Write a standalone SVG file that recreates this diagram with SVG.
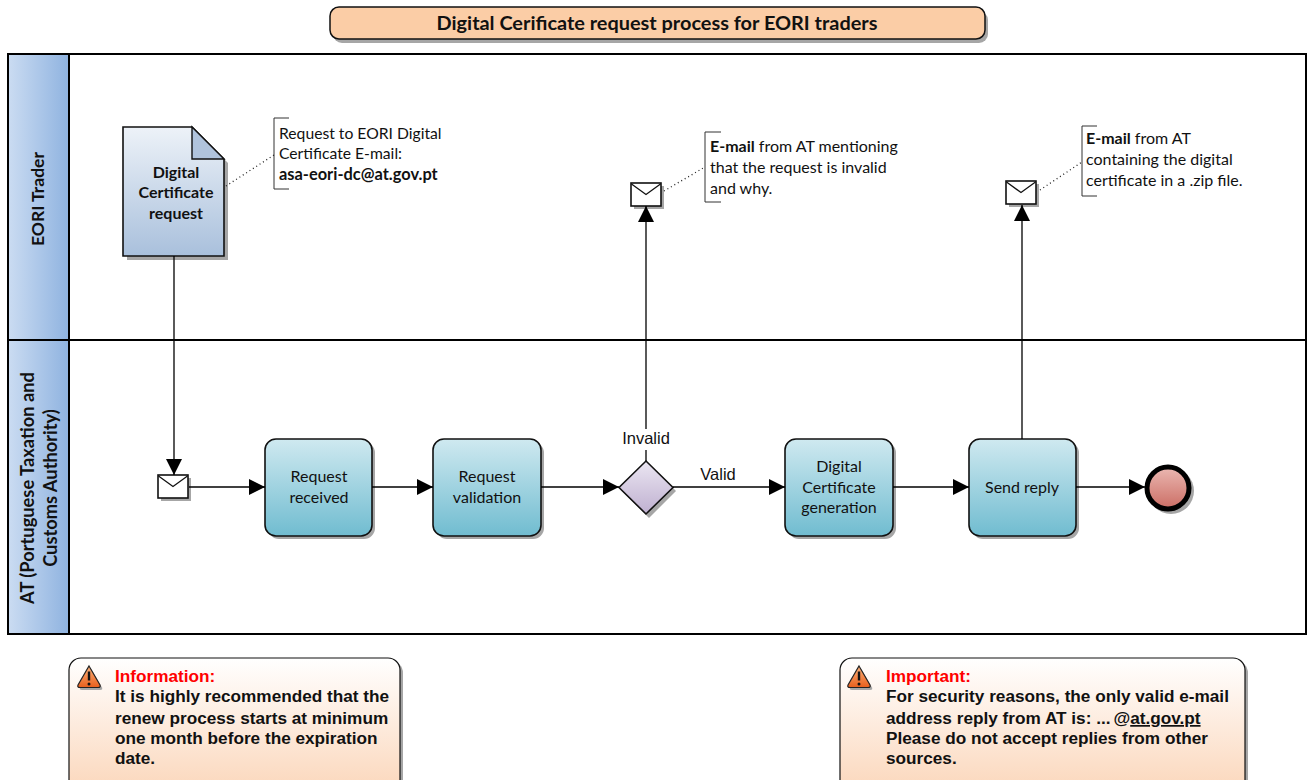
<svg xmlns="http://www.w3.org/2000/svg" xmlns:xlink="http://www.w3.org/1999/xlink" width="1311" height="780" viewBox="0 0 1311 780">
<style>
text{font-family:"Lato","Liberation Sans",sans-serif;fill:#111;font-size:16px}
.m{text-anchor:middle}
.b{font-weight:700}
.a{font-family:"Liberation Sans",Arial,sans-serif}
.n{font-family:"Liberation Sans",Arial,sans-serif;font-weight:700;font-size:17.2px}
.line{fill:none;stroke:#000;stroke-width:1.3}
.dot{fill:none;stroke:#222;stroke-width:1.3;stroke-dasharray:1 3}
.br{fill:none;stroke:#333;stroke-width:1}
.sh{fill:#a6a6a6}
.task{fill:url(#gT);stroke:#111;stroke-width:1.6}
.hd{fill:url(#gH);stroke:#000;stroke-width:2}
.note{fill:url(#gN);stroke:#111;stroke-width:1.2}
.env{fill:#fff;stroke:#111;stroke-width:1.6}
</style>
<defs>
<linearGradient id="gH"><stop offset="0" stop-color="#cbdcf2"/><stop offset="1" stop-color="#8fb3e0"/></linearGradient>
<linearGradient id="gT" x2="0" y2="1"><stop offset="0" stop-color="#cfe9f0"/><stop offset="1" stop-color="#70bcd0"/></linearGradient>
<linearGradient id="gD" x2="0" y2="1"><stop offset="0" stop-color="#edf2f8"/><stop offset="1" stop-color="#a9c0dc"/></linearGradient>
<linearGradient id="gG" x2="0" y2="1"><stop offset="0" stop-color="#ebe6f2"/><stop offset="1" stop-color="#bfb0d0"/></linearGradient>
<linearGradient id="gE" x2="0" y2="1"><stop offset="0" stop-color="#ebb8b2"/><stop offset="1" stop-color="#cb6d64"/></linearGradient>
<linearGradient id="gN" x2="0" y2="1"><stop offset="0" stop-color="#ffffff"/><stop offset="1" stop-color="#fbd5b8"/></linearGradient>
<linearGradient id="gW" x2="0" y2="1"><stop offset="0" stop-color="#fbb27a"/><stop offset="1" stop-color="#e85f1c"/></linearGradient>
<marker id="ah" viewBox="0 0 16 16" refX="16" refY="8" markerWidth="16" markerHeight="16" markerUnits="userSpaceOnUse" orient="auto"><path d="M0 0L16 8L0 16Z" fill="#000"/></marker>
<g id="envelope"><rect class="sh" x="3" y="3" width="30" height="23"/><rect class="env" width="30" height="23"/><path d="M0.5 1L15 11.5L29.5 1" fill="none" stroke="#111" stroke-width="1.3"/></g>
<g id="warn"><path d="M12 1.500L23 20.500Q24 23 21 23L3 23Q0 23 1 20.500Z" fill="#a6a6a6" transform="translate(2 2)"/><path d="M12 1L23 20Q24 22.500 21 22.500L3 22.500Q0 22.500 1 20Z" fill="url(#gW)" stroke="#222" stroke-width="1.200"/><path d="M12 6.500V15.500" stroke="#111" stroke-width="2.400"/><circle cx="12" cy="19" r="1.500" fill="#111"/></g>
</defs>

<g id="title"><rect class="sh" x="333" y="11" width="655" height="32" rx="9"/><rect x="330" y="7" width="655" height="32" rx="9" fill="#fbcda6" stroke="#111" stroke-width="1.500"/><text class="m b" x="657" y="30" style="font-size:19.9px">Digital Cerificate request process for EORI traders</text></g>

<g id="pool">
<rect x="8" y="54" width="1298" height="580" fill="#fff" stroke="#000" stroke-width="2"/>
<rect class="hd" x="8" y="54" width="61" height="286"/>
<rect class="hd" x="8" y="340" width="61" height="294"/>
<path d="M69 340H1306" stroke="#000" stroke-width="2"/>
</g>
<g id="lane-trader"><text class="m b" transform="translate(44 199) rotate(-90)" style="font-size:17.5px">EORI Trader</text></g>
<g id="lane-at"><text class="m b" transform="translate(34 488) rotate(-90)" style="font-size:18.3px">AT (Portuguese Taxation and</text><text class="m b" transform="translate(57 488) rotate(-90)" style="font-size:18.3px">Customs Authority)</text></g>

<g id="doc"><path class="sh" d="M127 131H196L228 163V260H127Z"/><path d="M123 127H192L224 159V256H123Z" fill="url(#gD)" stroke="#111" stroke-width="1.600"/><path d="M192 127V159H224Z" fill="#b0c3dc" stroke="#111" stroke-width="1.400"/><text class="m b" x="176" y="178">Digital</text><text class="m b" x="176" y="198">Certificate</text><text class="m b" x="176" y="219">request</text></g>

<g id="note-request"><path class="br" d="M289 118H274V189H289"/><text x="279" y="139" style="font-size:15.7px">Request to EORI Digital</text><text x="279" y="159" style="font-size:15.7px">Certificate E-mail:</text><text class="b" x="279" y="180" style="font-size:16.4px">asa-eori-dc@at.gov.pt</text></g>

<g id="email-invalid"><use xlink:href="#envelope" href="#envelope" x="631" y="183"/></g>
<g id="note-invalid"><path class="br" d="M721 132H705V202H721"/><text x="710" y="152"><tspan class="b">E-mail</tspan> from AT mentioning</text><text x="710" y="173">that the request is invalid</text><text x="710" y="194">and why.</text></g>

<g id="email-reply"><use xlink:href="#envelope" href="#envelope" x="1006" y="181"/></g>
<g id="note-reply"><path class="br" d="M1097 126H1082V196H1097"/><text x="1086" y="144"><tspan class="b">E-mail</tspan> from AT</text><text x="1086" y="165">containing the digital</text><text x="1086" y="186">certificate in a .zip file.</text></g>

<g id="email-start"><use xlink:href="#envelope" href="#envelope" x="158" y="475"/></g>

<g id="task-received"><rect class="sh" x="268" y="442" width="107" height="97" rx="11"/><rect class="task" x="265" y="439" width="107" height="97" rx="11"/><text class="m" x="319" y="482">Request</text><text class="m" x="319" y="503">received</text></g>
<g id="task-validation"><rect class="sh" x="436" y="442" width="108" height="97" rx="11"/><rect class="task" x="433" y="439" width="108" height="97" rx="11"/><text class="m" x="487" y="482">Request</text><text class="m" x="487" y="503">validation</text></g>
<g id="gateway"><path class="sh" d="M649 464L676 491L649 518L622 491Z"/><path d="M646 461L673 487.500L646 514L619 487.500Z" fill="url(#gG)" stroke="#111" stroke-width="1.600"/></g>
<text class="m a" x="646" y="444" style="font-size:16.500px">Invalid</text>
<text class="m a" x="718" y="480" style="font-size:16.500px">Valid</text>
<g id="task-generation"><rect class="sh" x="788" y="442" width="108" height="97" rx="11"/><rect class="task" x="785" y="439" width="108" height="97" rx="11"/><text class="m" x="839" y="472">Digital</text><text class="m" x="839" y="493">Certificate</text><text class="m" x="839" y="513">generation</text></g>
<g id="task-send"><rect class="sh" x="972" y="442" width="107" height="97" rx="11"/><rect class="task" x="969" y="439" width="107" height="97" rx="11"/><text class="m" x="1022" y="493">Send reply</text></g>
<g id="end"><circle cx="1171" cy="491" r="23" fill="#a6a6a6"/><circle cx="1168" cy="488" r="21" fill="url(#gE)" stroke="#000" stroke-width="5"/></g>

<g id="connectors">
<path class="line" d="M174 256V475" marker-end="url(#ah)"/>
<path class="line" d="M189 487H265" marker-end="url(#ah)"/>
<path class="line" d="M372 487H433" marker-end="url(#ah)"/>
<path class="line" d="M541 487H619" marker-end="url(#ah)"/>
<path class="line" d="M673 487H785" marker-end="url(#ah)"/>
<path class="line" d="M893 487H969" marker-end="url(#ah)"/>
<path class="line" d="M1076 487H1145" marker-end="url(#ah)"/>
<path class="line" d="M646 461V450"/>
<path class="line" d="M646 429V206" marker-end="url(#ah)"/>
<path class="line" d="M1022 439V205" marker-end="url(#ah)"/>
<path class="dot" d="M226 186L274 155"/>
<path class="dot" d="M664 191L705 167"/>
<path class="dot" d="M1040 190L1082 162"/>
</g>

<g id="note-information"><rect class="sh" x="72" y="661" width="331" height="140" rx="12"/><rect class="note" x="69" y="658" width="331" height="140" rx="12"/><use xlink:href="#warn" href="#warn" x="77" y="665"/><text class="n" x="115" y="682" style="fill:#f00">Information:</text><text class="n" x="115" y="702">It is highly recommended that the</text><text class="n" x="115" y="724">renew process starts at minimum</text><text class="n" x="115" y="744">one month before the expiration</text><text class="n" x="115" y="764">date.</text></g>
<g id="note-important"><rect class="sh" x="843" y="661" width="405" height="140" rx="12"/><rect class="note" x="840" y="658" width="405" height="140" rx="12"/><use xlink:href="#warn" href="#warn" x="847" y="665"/><text class="n" x="886" y="682" style="fill:#f00">Important:</text><text class="n" x="886" y="702">For security reasons, the only valid e-mail</text><text class="n" x="886" y="724">address reply from AT is: ...<tspan dx="3">@</tspan><tspan text-decoration="underline">at.gov.pt</tspan></text><text class="n" x="886" y="744">Please do not accept replies from other</text><text class="n" x="886" y="764">sources.</text></g>
</svg>
